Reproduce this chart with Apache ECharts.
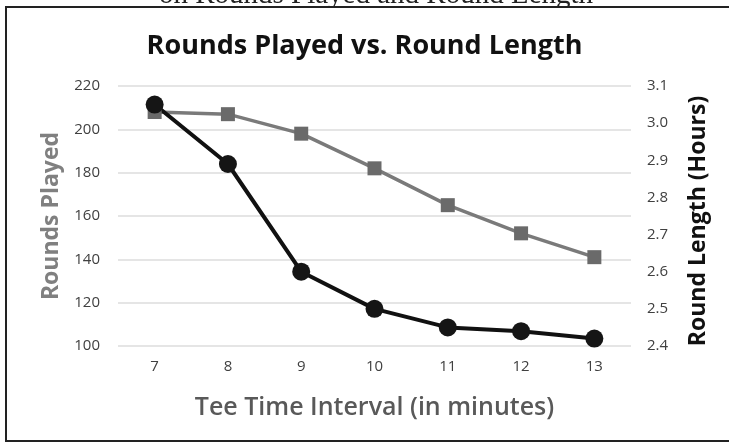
<!DOCTYPE html>
<html>
<head>
<meta charset="utf-8">
<script src="https://cdn.jsdelivr.net/npm/echarts@6/dist/echarts.min.js"></script>
<style>
html,body{margin:0;padding:0;background:#fff;}
#chart{width:729px;height:442px;}
</style>
</head>
<body>
<div id="chart"></div>
<script>
const categories = ['7','8','9','10','11','12','13'];
const roundsPlayed = [208, 207, 198, 182, 165, 152, 141];
const roundLength = [3.05, 2.89, 2.60, 2.50, 2.45, 2.44, 2.42];
const leftTicks = {min: 100, max: 220, interval: 20};
const rightTicks = {min: 2.4, max: 3.1, interval: 0.1};

const FONT = '"Open Sans", sans-serif';
const chart = echarts.init(document.getElementById('chart'));
chart.setOption({
  backgroundColor: '#fff',
  animation: false,
  title: {
    text: 'Rounds Played vs. Round Length',
    left: 'center',
    top: 28,
    textStyle: {fontFamily: FONT, fontWeight: 'bold', fontSize: 27, color: '#111'}
  },
  graphic: [
    {type: 'rect', shape: {x: 6, y: 7, width: 740, height: 434}, style: {fill: 'none', stroke: '#222', lineWidth: 2}, z: 100},
    {type: 'text', x: 376, y: 10, style: {text: 'on Rounds Played and Round Length', font: '29px "Liberation Serif", serif', fill: '#222', textAlign: 'center', textVerticalAlign: 'bottom'}, z: 90},
    {type: 'rect', shape: {x: 7, y: 8, width: 740, height: 10}, style: {fill: '#fff'}, z: 95}
  ],
  grid: {left: 118, right: 98, top: 86, bottom: 96},
  xAxis: {
    type: 'category',
    data: categories,
    name: 'Tee Time Interval (in minutes)',
    nameLocation: 'middle',
    nameGap: 49,
    nameTextStyle: {fontFamily: FONT, fontSize: 25, fontWeight: 600, color: '#595959'},
    axisLine: {show: false},
    axisTick: {show: false},
    axisLabel: {fontFamily: FONT, fontSize: 15, color: '#404040', margin: 13}
  },
  yAxis: [
    {
      type: 'value', min: leftTicks.min, max: leftTicks.max, interval: leftTicks.interval,
      name: 'Rounds Played', nameLocation: 'middle', nameGap: 55,
      nameTextStyle: {fontFamily: FONT, fontSize: 23, fontWeight: 'bold', color: '#808080'},
      axisLine: {show: false}, axisTick: {show: false},
      axisLabel: {fontFamily: FONT, fontSize: 15, color: '#404040', margin: 18},
      splitLine: {lineStyle: {color: '#dcdcdc', width: 1.5}}
    },
    {
      type: 'value', min: rightTicks.min, max: rightTicks.max, interval: rightTicks.interval,
      name: 'Round Length (Hours)', nameLocation: 'middle', nameGap: 56,
      nameRotate: 90,
      nameTextStyle: {fontFamily: FONT, fontSize: 23, fontWeight: 'bold', color: '#111', padding: [0, 10, 0, 0]},
      axisLine: {show: false}, axisTick: {show: false},
      axisLabel: {fontFamily: FONT, fontSize: 15, color: '#404040', margin: 16, formatter: v => v.toFixed(1)},
      splitLine: {show: false}
    }
  ],
  series: [
    {
      name: 'Rounds Played', type: 'line', yAxisIndex: 0, data: roundsPlayed,
      symbol: 'rect', symbolSize: 14,
      lineStyle: {color: '#7a7a7a', width: 3.5},
      itemStyle: {color: '#6a6a6a'}
    },
    {
      name: 'Round Length', type: 'line', yAxisIndex: 1, data: roundLength,
      symbol: 'circle', symbolSize: 18,
      lineStyle: {color: '#111', width: 4},
      itemStyle: {color: '#151515'}
    }
  ]
});
</script>
</body>
</html>
